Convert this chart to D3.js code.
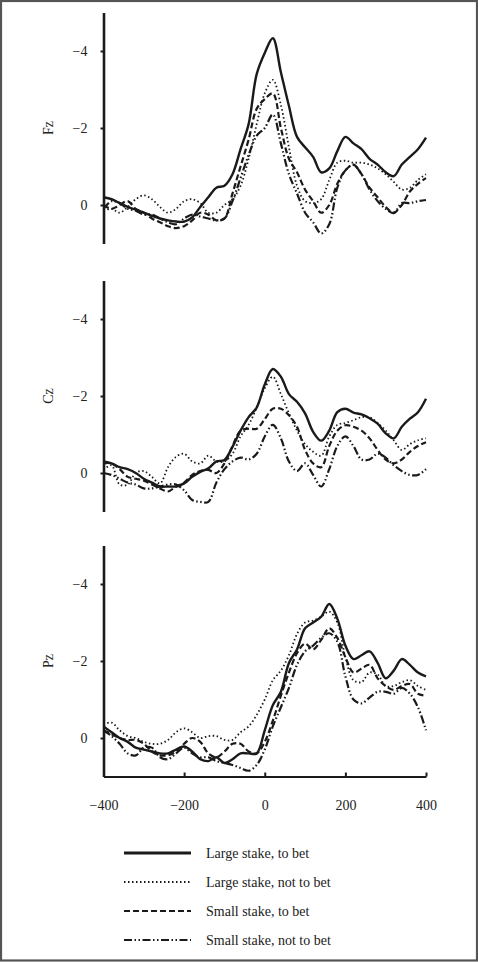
<!DOCTYPE html>
<html>
<head>
<meta charset="utf-8">
<script src="https://cdn.jsdelivr.net/npm/d3@7"></script>
<style>
  html, body { margin: 0; padding: 0; background: #fff; }
  svg { display: block; font-family: "Liberation Serif", "DejaVu Serif", serif; }
</style>
</head>
<body>
<svg id="chart" width="478" height="962"></svg>
<script>
// time axis, -400..400 ms in 20 ms steps
const times = d3.range(-400, 401, 20);
const xTicks = [-400, -200, 0, 200, 400];
const yTicks = [-4, -2, 0];
const channels = ["Fz", "Cz", "Pz"];
const conditions = [
  "Large stake, to bet",
  "Large stake, not to bet",
  "Small stake, to bet",
  "Small stake, not to bet",
];

// amplitudes (µV), one value per time point
const fzLargeBet = [-0.2, -0.15, -0.05, 0.05, 0.12, 0.2, 0.28, 0.35, 0.4, 0.43, 0.43, 0.32, 0.05, -0.2, -0.45, -0.5, -0.8, -1.45, -2.1, -3.4, -3.95, -4.33, -3.45, -2.57, -1.77, -1.5, -1.25, -0.85, -0.95, -1.4, -1.77, -1.6, -1.45, -1.2, -1.05, -0.85, -0.75, -1.05, -1.25, -1.45, -1.75];
const fzLargeNoBet = [0.15, 0.1, 0.2, 0.05, -0.15, -0.25, -0.15, 0.05, 0.2, 0.1, -0.1, -0.15, -0.05, 0.2, 0.2, 0.0, -0.15, -0.5, -1.2, -2.1, -2.9, -3.25, -2.6, -1.5, -0.5, -0.1, -0.05, -0.15, -0.65, -1.1, -1.15, -1.1, -1.1, -1.05, -0.95, -0.8, -0.6, -0.4, -0.45, -0.65, -0.8];
const fzSmallBet = [0.0, 0.1, 0.0, -0.1, 0.1, 0.2, 0.35, 0.45, 0.55, 0.6, 0.55, 0.4, 0.2, 0.25, 0.4, 0.35, -0.3, -1.0, -1.7, -2.5, -2.75, -2.9, -2.0, -1.2, -0.85, -0.4, -0.1, 0.2, 0.0, -0.55, -0.9, -1.05, -0.8, -0.45, -0.2, 0.05, 0.2, 0.0, -0.35, -0.55, -0.7];
const fzSmallNoBet = [0.1, -0.1, -0.05, 0.1, 0.15, 0.25, 0.25, 0.35, 0.45, 0.5, 0.35, 0.25, 0.3, 0.35, 0.4, 0.35, -0.1, -0.7, -1.3, -1.8, -2.0, -2.35, -1.6, -0.8, -0.3, 0.2, 0.45, 0.74, 0.5, -0.45, -0.9, -1.04, -0.8, -0.4, -0.1, 0.1, 0.21, -0.05, -0.05, -0.1, -0.13];

const czLargeBet = [-0.3, -0.25, -0.15, -0.1, 0, 0.15, 0.25, 0.35, 0.35, 0.35, 0.27, 0.1, -0.03, -0.12, -0.3, -0.34, -0.68, -1.1, -1.45, -1.7, -2.3, -2.7, -2.5, -2.05, -1.85, -1.55, -1.07, -0.84, -1.1, -1.58, -1.67, -1.57, -1.52, -1.42, -1.28, -1.03, -0.9, -1.2, -1.41, -1.58, -1.93];
const czLargeNoBet = [-0.08, -0.2, 0.3, 0.3, 0.0, -0.05, 0.1, 0.27, -0.15, -0.42, -0.5, -0.3, -0.25, -0.45, -0.3, -0.3, -0.5, -0.95, -1.25, -1.7, -2.2, -2.5, -2.05, -1.55, -1.1, -0.75, -0.55, -0.45, -0.95, -1.25, -1.3, -1.37, -1.45, -1.45, -1.3, -1.1, -0.85, -0.6, -0.75, -0.85, -0.9];
const czSmallBet = [-0.25, -0.25, -0.1, 0.1, 0.15, 0.2, 0.3, 0.4, 0.48, 0.35, 0.25, 0.05, -0.05, -0.08, 0.0, -0.25, -0.7, -1.1, -1.15, -1.15, -1.4, -1.67, -1.67, -1.5, -1.2, -0.6, -0.25, -0.15, -0.7, -1.1, -1.24, -1.2, -1.1, -0.9, -0.6, -0.35, -0.25, -0.35, -0.55, -0.7, -0.8];
const czSmallNoBet = [0.0, 0.05, 0.15, 0.25, 0.3, 0.4, 0.4, 0.35, 0.3, 0.3, 0.45, 0.7, 0.75, 0.75, 0.25, -0.1, -0.3, -0.4, -0.35, -0.5, -0.95, -1.25, -0.9, -0.3, -0.05, -0.25, 0.05, 0.35, -0.1, -0.7, -0.95, -0.7, -0.35, -0.35, -0.5, -0.4, -0.2, -0.05, 0.05, 0.05, -0.1];

const pzLargeBet = [-0.3, -0.15, 0.0, 0.1, 0.25, 0.3, 0.35, 0.4, 0.4, 0.3, 0.22, 0.35, 0.55, 0.6, 0.5, 0.65, 0.55, 0.4, 0.4, 0.4, -0.2, -0.85, -1.2, -1.95, -2.3, -2.85, -3.0, -3.15, -3.48, -3.1, -2.4, -2.05, -2.15, -2.25, -1.95, -1.55, -1.75, -2.05, -1.9, -1.7, -1.6];
const pzLargeNoBet = [-0.35, -0.4, -0.2, -0.05, 0.0, 0.1, 0.15, 0.15, 0.05, -0.15, -0.25, -0.15, 0.0, -0.05, -0.05, 0.05, 0.05, -0.15, -0.3, -0.6, -1.0, -1.5, -1.75, -2.15, -2.7, -3.0, -3.05, -3.15, -3.28, -3.0, -2.1, -1.5, -1.45, -1.7, -1.65, -1.35, -1.35, -1.45, -1.5, -1.35, -1.25];
const pzSmallBet = [-0.2, -0.1, 0.0, 0.05, 0.05, 0.15, 0.35, 0.45, 0.45, 0.35, 0.15, 0.0, 0.1, 0.4, 0.5, 0.35, 0.15, 0.15, 0.35, 0.4, 0.1, -0.45, -1.1, -1.7, -2.2, -2.45, -2.3, -2.55, -2.85, -2.6, -2.1, -1.7, -1.8, -1.9, -1.55, -1.35, -1.25, -1.35, -1.4, -1.15, -1.1];
const pzSmallNoBet = [-0.2, -0.05, 0.15, 0.4, 0.45, 0.25, 0.25, 0.5, 0.55, 0.4, 0.25, 0.4, 0.5, 0.5, 0.6, 0.65, 0.7, 0.78, 0.85, 0.7, 0.3, -0.3, -0.8, -1.3, -1.9, -2.25, -2.4, -2.6, -2.72, -2.5, -1.6, -1.0, -0.9, -1.05, -1.2, -1.2, -1.15, -1.3, -1.15, -0.8, -0.2];

const seriesByChannel = {
  Fz: [fzLargeBet, fzLargeNoBet, fzSmallBet, fzSmallNoBet],
  Cz: [czLargeBet, czLargeNoBet, czSmallBet, czSmallNoBet],
  Pz: [pzLargeBet, pzLargeNoBet, pzSmallBet, pzSmallNoBet],
};

// line styles per condition
const styles = [
  { width: 2.4, dash: null },
  { width: 1.8, dash: "1.5,2.5" },
  { width: 2.2, dash: "6,3" },
  { width: 2.2, dash: "8,2.5,1.5,2.5,1.5,2.5" },
];

const svg = d3.select("#chart");
const ink = "#1a1a1a";
const fontSize = 14;

// frame
svg.append("rect")
  .attr("x", 1).attr("y", 1)
  .attr("width", 476).attr("height", 959.5)
  .attr("fill", "none")
  .attr("stroke", "#555")
  .attr("stroke-width", 2.2);

const x = d3.scaleLinear().domain([-400, 400]).range([103.5, 426]);
const panelTops = [12.5, 280.5, 545.5];
const panelHeight = 231;

const line = d3.line()
  .curve(d3.curveCatmullRom)
  .x((d) => x(d[0]))
  .y((d) => d[1]);

channels.forEach((ch, i) => {
  const top = panelTops[i];
  const y = d3.scaleLinear().domain([-5, 1]).range([top, top + panelHeight]);
  const g = svg.append("g");

  // y axis
  const yAxis = g.append("g")
    .attr("transform", `translate(${x(-400)},0)`)
    .call(d3.axisLeft(y).tickValues(yTicks).tickSizeInner(3).tickSizeOuter(0).tickPadding(13)
      .tickFormat((d) => (d === 0 ? "0" : "\u2212" + Math.abs(d))));
  yAxis.select(".domain").attr("stroke", ink).attr("stroke-width", 2.6);
  yAxis.selectAll(".tick line").attr("stroke", ink).attr("stroke-width", 2);
  yAxis.selectAll("text")
    .attr("font-family", "Liberation Serif, serif")
    .attr("font-size", fontSize)
    .attr("fill", "#222");

  // channel label
  g.append("text")
    .attr("transform", `translate(53,${y(-2)}) rotate(-90)`)
    .attr("text-anchor", "middle")
    .attr("font-size", fontSize)
    .attr("fill", "#222")
    .text(ch);

  // waveforms
  seriesByChannel[ch].forEach((vals, k) => {
    const pts = times.map((t, j) => [t, y(vals[j])]);
    g.append("path")
      .attr("d", line(pts))
      .attr("fill", "none")
      .attr("stroke", ink)
      .attr("stroke-width", styles[k].width)
      .attr("stroke-dasharray", styles[k].dash)
      .attr("stroke-linejoin", "round");
  });

  // time axis only under the last panel
  if (i === channels.length - 1) {
    const xAxis = g.append("g")
      .attr("transform", `translate(0,${y(1)})`)
      .call(d3.axisBottom(x).tickValues(xTicks).tickSizeInner(-4).tickSizeOuter(0).tickPadding(24)
        .tickFormat((d) => (d < 0 ? "\u2212" + Math.abs(d) : String(d))));
    xAxis.select(".domain").attr("stroke", ink).attr("stroke-width", 2.2);
    xAxis.selectAll(".tick line").attr("stroke", ink).attr("stroke-width", 2);
    xAxis.selectAll("text")
      .attr("font-family", "Liberation Serif, serif")
      .attr("font-size", fontSize)
      .attr("fill", "#222");
  }
});

// legend
const legendY = d3.scalePoint().domain(conditions).range([853, 940]);
const legend = svg.append("g");
conditions.forEach((c, k) => {
  const ly = legendY(c);
  legend.append("line")
    .attr("x1", 124).attr("x2", 191)
    .attr("y1", ly).attr("y2", ly)
    .attr("stroke", ink)
    .attr("stroke-width", k === 0 ? 3 : styles[k].width)
    .attr("stroke-dasharray", styles[k].dash);
  legend.append("text")
    .attr("x", 206).attr("y", ly + 4.5)
    .attr("font-size", fontSize)
    .attr("fill", "#222")
    .text(c);
});
</script>
</body>
</html>
